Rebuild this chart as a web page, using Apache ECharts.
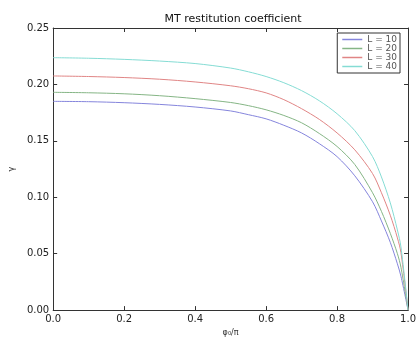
<!DOCTYPE html>
<html>
<head>
<meta charset="utf-8">
<script src="https://cdn.jsdelivr.net/npm/echarts@6/dist/echarts.min.js"></script>
<style>
  html, body { margin: 0; padding: 0; background: #fff; }
  #chart { width: 419px; height: 342px; }
</style>
</head>
<body>
<div id="chart"></div>
<script>
// phi0 / pi sample positions
const phi = [0, 0.1, 0.2, 0.3, 0.4, 0.5, 0.55, 0.6, 0.65, 0.7, 0.75, 0.8, 0.85, 0.9, 0.925, 0.95, 0.97, 0.98, 1.0];

const gammaL10 = [0.1850, 0.1847, 0.1838, 0.1823, 0.1800, 0.1765, 0.1732, 0.1695, 0.1638, 0.1570, 0.1475, 0.1360, 0.1190, 0.0960, 0.0790, 0.0600, 0.0410, 0.0300, 0];
const gammaL20 = [0.1930, 0.1926, 0.1917, 0.1900, 0.1874, 0.1840, 0.1812, 0.1775, 0.1725, 0.1660, 0.1565, 0.1450, 0.1290, 0.1040, 0.0875, 0.0680, 0.0500, 0.0380, 0];
const gammaL30 = [0.2075, 0.2070, 0.2061, 0.2046, 0.2022, 0.1988, 0.1962, 0.1925, 0.1865, 0.1785, 0.1690, 0.1570, 0.1420, 0.1210, 0.1040, 0.0840, 0.0640, 0.0510, 0];
const gammaL40 = [0.2237, 0.2232, 0.2222, 0.2207, 0.2185, 0.2145, 0.2112, 0.2070, 0.2015, 0.1945, 0.1855, 0.1740, 0.1590, 0.1360, 0.1180, 0.0950, 0.0710, 0.0560, 0];

const seriesNames = ['L = 10', 'L = 20', 'L = 30', 'L = 40'];
const seriesData = [gammaL10, gammaL20, gammaL30, gammaL40];
const lineColors = ['#8585dc', '#85b585', '#e08585', '#85dcd4'];

const xTicks = { min: 0, max: 1, interval: 0.2 };
const yTicks = { min: 0, max: 0.25, interval: 0.05 };

const chart = echarts.init(document.getElementById('chart'));

const axisLine = { show: true, onZero: false, lineStyle: { color: '#333', width: 1 } };
const axisTick = { show: true, inside: true, length: 4, lineStyle: { color: '#333' } };

const option = {
  animation: false,
  color: lineColors,
  title: {
    text: 'MT restitution coefficient',
    left: 228,
    top: 9,
    textAlign: 'center',
    textStyle: { fontSize: 11, fontWeight: 'normal', color: '#111', fontFamily: 'DejaVu Sans' }
  },
  grid: { left: 47, right: 10, top: 28, bottom: 22 },
  legend: {
    orient: 'vertical',
    right: 19,
    top: 33,
    icon: 'rect',
    itemWidth: 20,
    itemHeight: 1.5,
    itemGap: 0,
    padding: [2, 3, 2, 5],
    borderColor: '#333',
    borderWidth: 1,
    textStyle: { fontSize: 9, color: '#555', fontFamily: 'DejaVu Sans', lineHeight: 8.5 },
    data: seriesNames
  },
  xAxis: [
    {
      type: 'value',
      ...xTicks,
      name: 'φ₀/π',
      nameLocation: 'middle',
      nameGap: 14,
      nameTextStyle: { fontSize: 8, color: '#333', fontFamily: 'DejaVu Sans' },
      axisLine,
      axisTick,
      splitLine: { show: false },
      axisLabel: {
        fontSize: 10, color: '#222', fontFamily: 'DejaVu Sans', margin: 4,
        formatter: v => v.toFixed(1)
      }
    },
    {
      type: 'value',
      position: 'top',
      ...xTicks,
      axisLine,
      axisTick,
      splitLine: { show: false },
      axisLabel: { show: false }
    }
  ],
  yAxis: [
    {
      type: 'value',
      ...yTicks,
      name: 'γ',
      nameLocation: 'middle',
      nameGap: 33,
      nameRotate: 90,
      nameTextStyle: { fontSize: 8, color: '#333', fontFamily: 'DejaVu Sans' },
      axisLine,
      axisTick,
      splitLine: { show: false },
      axisLabel: {
        fontSize: 10, color: '#222', fontFamily: 'DejaVu Sans', margin: 4,
        formatter: v => v.toFixed(2)
      }
    },
    {
      type: 'value',
      position: 'right',
      ...yTicks,
      axisLine,
      axisTick,
      splitLine: { show: false },
      axisLabel: { show: false }
    }
  ],
  series: seriesNames.map((name, i) => ({
    name,
    type: 'line',
    xAxisIndex: 0,
    yAxisIndex: 0,
    symbol: 'none',
    smooth: 0.3,
    lineStyle: { width: 1 },
    data: phi.map((x, j) => [x, seriesData[i][j]])
  }))
};

chart.setOption(option);
</script>
</body>
</html>
